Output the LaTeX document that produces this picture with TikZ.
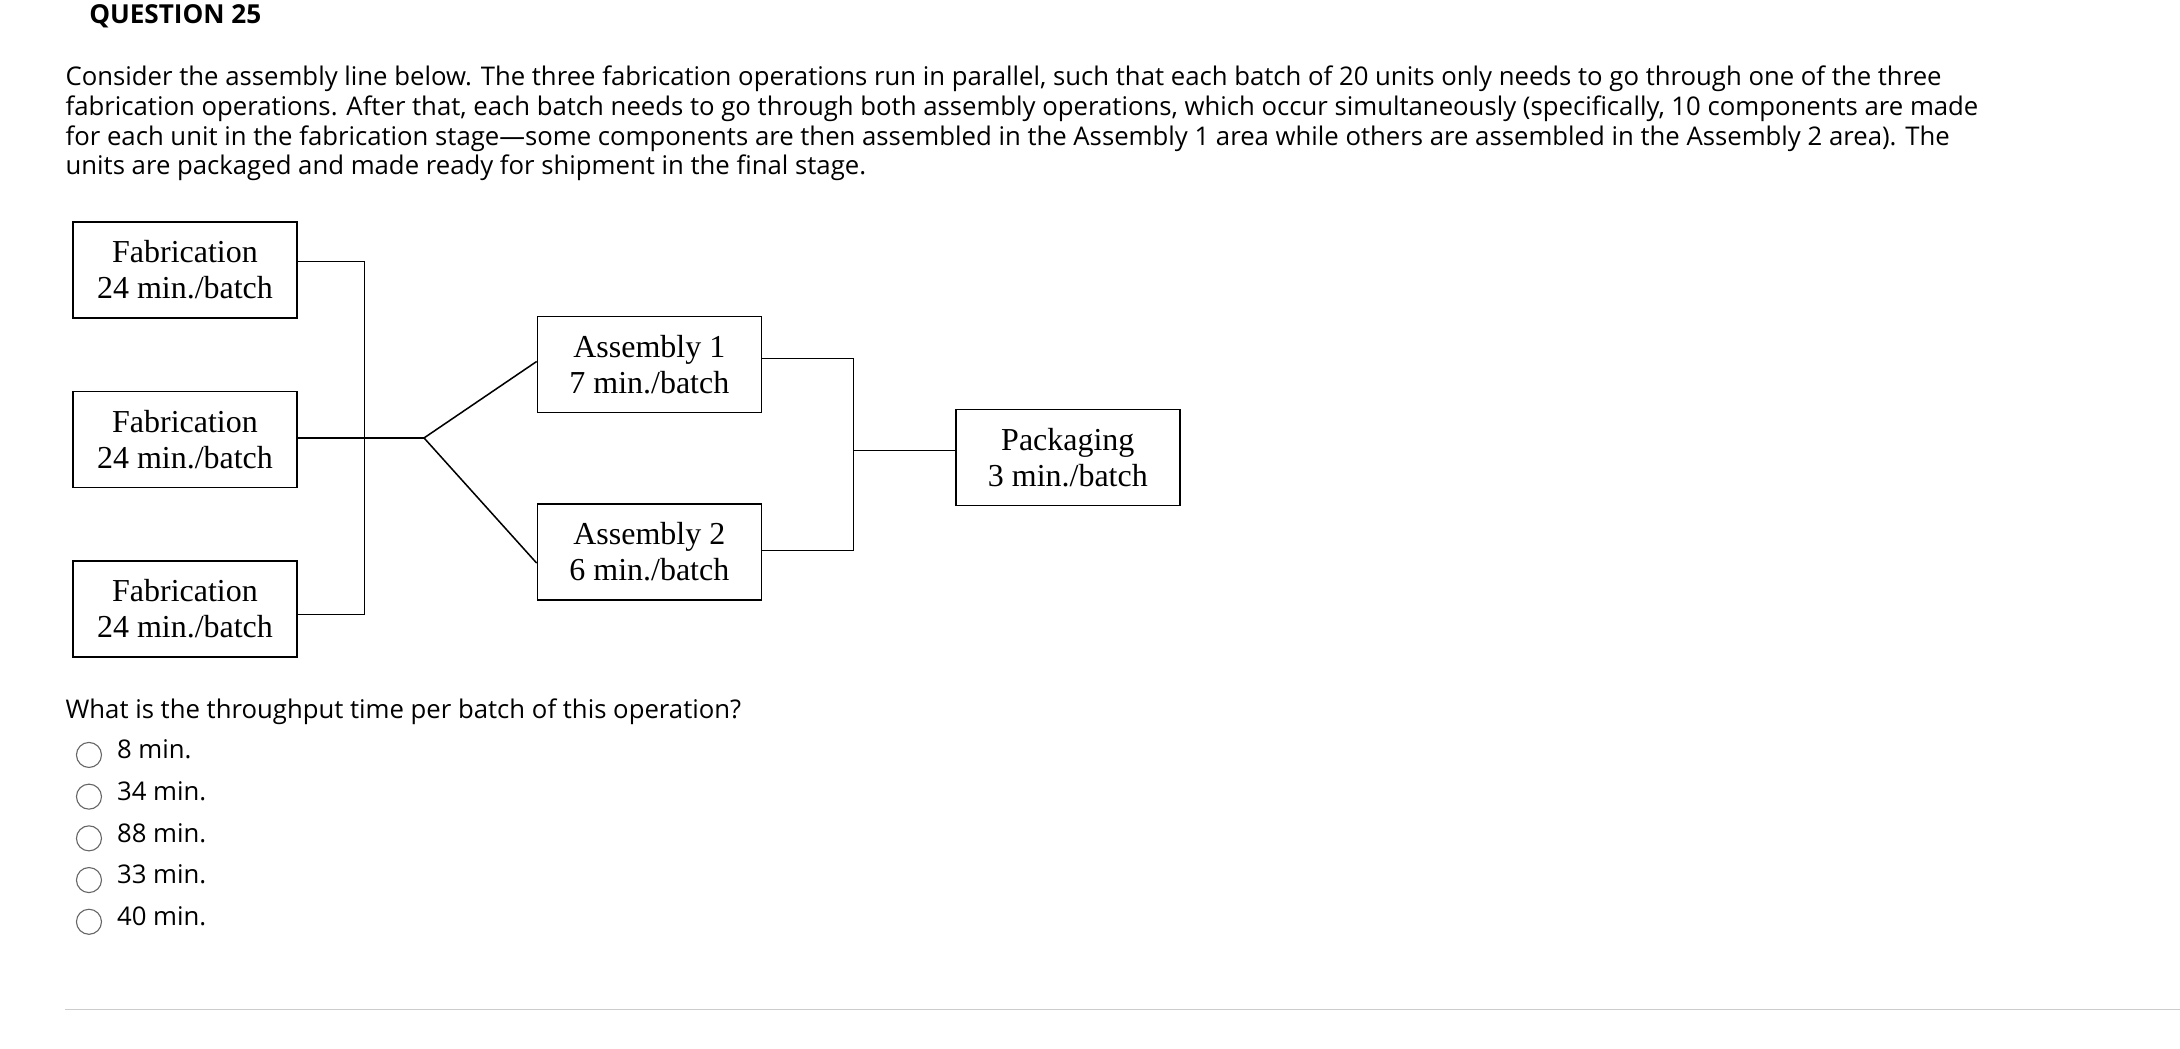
\documentclass[tikz,border=0pt]{standalone}
\usepackage{fontspec}
\setmainfont{Open Sans}
\newfontfamily\boxfont{Liberation Serif}
\begin{document}
\begin{tikzpicture}[x=1pt,y=-1pt,
  stagebox/.style={draw,line width=1.1pt,minimum width=161pt,minimum height=69pt,font=\boxfont\fontsize{23}{26}\selectfont,align=center,anchor=north west,inner sep=0pt},
  wire/.style={line width=1.1pt},
  txt/.style={anchor=west,inner sep=0pt,font=\fontsize{18.5}{21.5}\selectfont},
  opt/.style={draw,gray!80!black,line width=0.8pt,circle,minimum size=18pt,inner sep=0pt}]
\useasboundingbox (0,0) rectangle (1568,754);
\node[anchor=west,inner sep=0pt,font=\bfseries\fontsize{18.8}{22}\selectfont] (title) at (64,12) {QUESTION 25};
\node[txt] (l1) at (47,57) {Consider the assembly line below. The three fabrication operations run in parallel, such that each batch of 20 units only needs to go through one of the three};
\node[txt] (l2) at (47,78) {fabrication operations. After that, each batch needs to go through both assembly operations, which occur simultaneously (specifically, 10 components are made};
\node[txt] (l3) at (47,100) {for each unit in the fabrication stage---some components are then assembled in the Assembly 1 area while others are assembled in the Assembly 2 area). The};
\node[txt] (l4) at (47,121) {units are packaged and made ready for shipment in the final stage.};

\node[stagebox] (f1) at (52,159) {Fabrication\\24 min./batch};
\node[stagebox] (f2) at (52,281) {Fabrication\\24 min./batch};
\node[stagebox] (f3) at (52,403) {Fabrication\\24 min./batch};
\node[stagebox] (a1) at (386,227) {Assembly 1\\7 min./batch};
\node[stagebox] (a2) at (386,362) {Assembly 2\\6 min./batch};
\node[stagebox] (p) at (687,294) {Packaging\\3 min./batch};

\coordinate (j1) at (262,315);
\coordinate (split) at (305,315);
\coordinate (j2) at (614,324);
\draw[wire] (f1.east |- 0,188) -| (j1) |- (f3.east |- 0,442);
\draw[wire] (f2.east |- j1) -- (split);
\draw[wire] (split) -- (a1.west |- 0,260);
\draw[wire] (split) -- (a2.west |- 0,405);
\draw[wire] (a1.east |- 0,258) -| (j2) |- (a2.east |- 0,396);
\draw[wire] (j2) -- (p.west |- j2);

\node[txt] (q) at (47,512) {What is the throughput time per batch of this operation?};
\foreach \y/\t [count=\i] in {543/8 min., 573/34 min., 603/88 min., 633/33 min., 663/40 min.}{
  \node[opt] (c\i) at (64,\y) {};
  \node[txt] (o\i) at (84,\y-4) {\t};
}
\draw[gray!40,line width=1pt] (47,726) -- (1568,726);
\end{tikzpicture}
\end{document}
